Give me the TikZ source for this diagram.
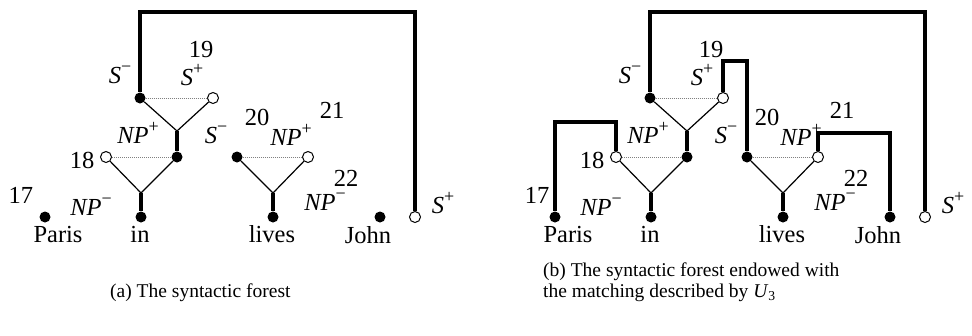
\documentclass[tikz,border=0pt]{standalone}
\usepackage{fontspec}
\setmainfont{Liberation Serif}
\newcommand\supmark[1]{\raisebox{0.42em}{\fontsize{18}{18}\selectfont #1}}
\newcommand\sneg{\textit{S}\supmark{−}}
\newcommand\spos{\textit{S}\supmark{+}}
\newcommand\npneg{\textit{NP}\supmark{−}}
\newcommand\nppos{\textit{NP}\supmark{+}}
\tikzset{
  filled/.style={circle,fill=black,inner sep=0pt,minimum size=11pt},
  hollow/.style={circle,draw=black,fill=white,line width=1pt,inner sep=0pt,minimum size=11pt},
  lbl/.style={anchor=base,inner sep=0pt,font=\fontsize{24.5}{29}\selectfont},
  captext/.style={anchor=base west,inner sep=0pt,align=left,font=\fontsize{19.5}{21}\selectfont},
  triline/.style={line width=1.2pt},
  dotline/.style={line width=1pt,gray,dash pattern=on 1pt off 1pt},
  stemline/.style={line width=4pt},
  linkline/.style={line width=4pt},
}
% #1 prefix, #2 xshift, #3 x of label 17
\newcommand\forestpanel[3]{%
\begin{scope}[xshift=#2pt]
  \node[filled] (#1sm) at (140,98) {};
  \node[hollow] (#1sp) at (213,98) {};
  \coordinate (#1apa) at (177,131);
  \node[filled] (#1npp) at (177,157) {};
  \node[hollow] (#1npe) at (106,157) {};
  \coordinate (#1apb) at (141,193);
  \node[filled] (#1in) at (141,217) {};
  \node[filled] (#1paris) at (45,217) {};
  \node[filled] (#1smb) at (237,157) {};
  \node[hollow] (#1npt) at (308,157) {};
  \coordinate (#1apc) at (273,193);
  \node[filled] (#1lives) at (273,217) {};
  \node[filled] (#1john) at (380,217) {};
  \node[hollow] (#1splus) at (415,217) {};
  \coordinate (#1top) at (0,12);
  % triangles
  \draw[triline] (#1sm) -- (#1apa) -- (#1sp);
  \draw[dotline] (#1sm) -- (#1sp);
  \draw[stemline] (#1apa) -- (#1npp);
  \draw[triline] (#1npe) -- (#1apb) -- (#1npp);
  \draw[dotline] (#1npe) -- (#1npp);
  \draw[stemline] (#1apb) -- (#1in);
  \draw[triline] (#1smb) -- (#1apc) -- (#1npt);
  \draw[dotline] (#1smb) -- (#1npt);
  \draw[stemline] (#1apc) -- (#1lives);
  % main link
  \draw[linkline] (#1sm) -- (#1sm |- #1top) -| (#1splus);
  % labels
  \node[lbl] (#1lsm) at (120,83) {\sneg};
  \node[lbl] (#1lnineteen) at (201,57) {19};
  \node[lbl] (#1lsp) at (192,85) {\spos};
  \node[lbl] (#1lnpp) at (138,143) {\nppos};
  \node[lbl] (#1lsmb) at (216,143) {\sneg};
  \node[lbl] (#1ltwenty) at (257,125) {20};
  \node[lbl] (#1lnpt) at (291,145) {\nppos};
  \node[lbl] (#1ltwentyone) at (332,118) {21};
  \node[lbl] (#1leighteen) at (82,168) {18};
  \node[lbl] (#1lseventeen) at (#3,203) {17};
  \node[lbl] (#1lnpm) at (91,215) {\npneg};
  \node[lbl] (#1ltwentytwo) at (346,186) {22};
  \node[lbl] (#1lnpmb) at (325,210) {\npneg};
  \node[lbl] (#1lsplus) at (443,213) {\spos};
  \node[lbl] (#1wparis) at (58,242) {Paris};
  \node[lbl] (#1win) at (140,242) {in};
  \node[lbl] (#1wlives) at (272,242) {lives};
  \node[lbl] (#1wjohn) at (368,243) {John};
\end{scope}}
\begin{document}
\begin{tikzpicture}[x=1pt,y=-1pt]
  \useasboundingbox (0,0) rectangle (972,335);
  \forestpanel{a}{0}{21}
  \forestpanel{b}{510}{27}
  % extra links of panel (b)
  \coordinate (bhnineteen) at (0,61);
  \coordinate (bheighteen) at (0,122);
  \coordinate (bhtwentyone) at (0,133);
  \draw[linkline] (bsp) -- (bsp |- bhnineteen) -| (bsmb);
  \draw[linkline] (bparis) -- (bparis |- bheighteen) -| (bnpe);
  \draw[linkline] (bnpt) -- (bnpt |- bhtwentyone) -| (bjohn);
  % captions
  \node[captext] (capa) at (110,297) {(a) The syntactic forest};
  \node[captext] (capb) at (543,297) {(b) The syntactic forest endowed with\\the matching described by \textit{U}\textsubscript{3}};
\end{tikzpicture}
\end{document}
